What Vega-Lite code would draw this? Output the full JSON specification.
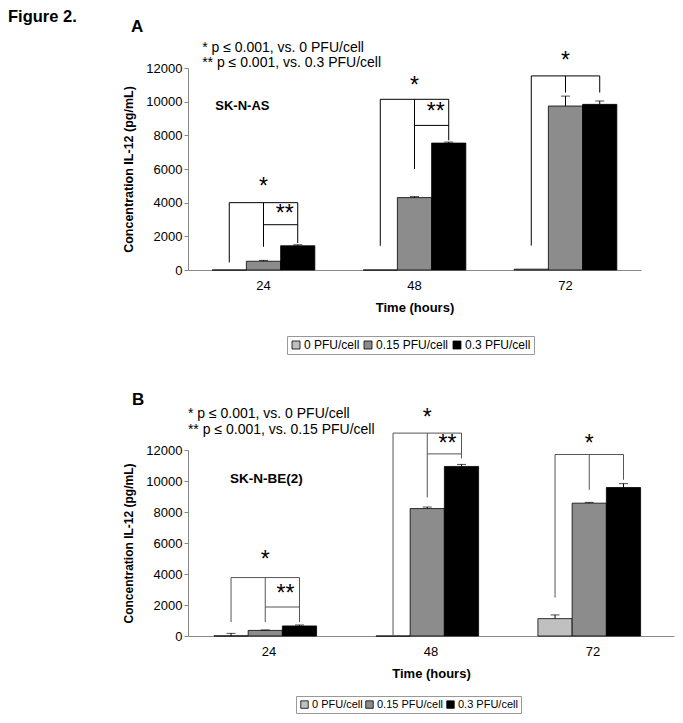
{
  "$schema": "https://vega.github.io/schema/vega-lite/v6.json",
  "background": "white",
  "padding": {"left": 8, "top": 9, "right": 5, "bottom": 5},
  "title": {"text": "Figure 2.", "anchor": "start", "frame": "group", "dx": -180, "fontSize": 16.5, "offset": -8},
  "bounds": "flush",
  "spacing": 180,
  "resolve": {"scale": {"fill": "independent"}, "legend": {"fill": "independent"}},
  "datasets": {
    "barsA": [
      {"time": "24", "dose": "0 PFU/cell", "value": 0, "hi": null},
      {"time": "24", "dose": "0.15 PFU/cell", "value": 520, "hi": 570},
      {"time": "24", "dose": "0.3 PFU/cell", "value": 1440, "hi": 1500},
      {"time": "48", "dose": "0 PFU/cell", "value": 0, "hi": null},
      {"time": "48", "dose": "0.15 PFU/cell", "value": 4300, "hi": 4360},
      {"time": "48", "dose": "0.3 PFU/cell", "value": 7540, "hi": 7600},
      {"time": "72", "dose": "0 PFU/cell", "value": 50, "hi": null},
      {"time": "72", "dose": "0.15 PFU/cell", "value": 9740, "hi": 10330},
      {"time": "72", "dose": "0.3 PFU/cell", "value": 9840, "hi": 10040}
    ],
    "vsegA": [
      {"time": "24", "dose": "0 PFU/cell", "y1": 450, "y2": 4000},
      {"time": "24", "dose": "0.15 PFU/cell", "y1": 1380, "y2": 4000},
      {"time": "24", "dose": "0.3 PFU/cell", "y1": 1600, "y2": 4000},
      {"time": "48", "dose": "0 PFU/cell", "y1": 1440, "y2": 10140},
      {"time": "48", "dose": "0.15 PFU/cell", "y1": 6000, "y2": 10140},
      {"time": "48", "dose": "0.3 PFU/cell", "y1": 7700, "y2": 10140},
      {"time": "72", "dose": "0 PFU/cell", "y1": 1450, "y2": 11530},
      {"time": "72", "dose": "0.15 PFU/cell", "y1": 10540, "y2": 11530},
      {"time": "72", "dose": "0.3 PFU/cell", "y1": 10540, "y2": 11530}
    ],
    "hsegA": [
      {"seg": "a24o", "time": "24", "dose": "0 PFU/cell", "y": 4000},
      {"seg": "a24o", "time": "24", "dose": "0.3 PFU/cell", "y": 4000},
      {"seg": "a24i", "time": "24", "dose": "0.15 PFU/cell", "y": 2690},
      {"seg": "a24i", "time": "24", "dose": "0.3 PFU/cell", "y": 2690},
      {"seg": "a48o", "time": "48", "dose": "0 PFU/cell", "y": 10140},
      {"seg": "a48o", "time": "48", "dose": "0.3 PFU/cell", "y": 10140},
      {"seg": "a48i", "time": "48", "dose": "0.15 PFU/cell", "y": 8590},
      {"seg": "a48i", "time": "48", "dose": "0.3 PFU/cell", "y": 8590},
      {"seg": "a72o", "time": "72", "dose": "0 PFU/cell", "y": 11530},
      {"seg": "a72o", "time": "72", "dose": "0.3 PFU/cell", "y": 11530}
    ],
    "star1A": [
      {"time": "24", "dose": "0.15 PFU/cell", "y": 4930, "label": "*"},
      {"time": "48", "dose": "0.15 PFU/cell", "y": 10940, "label": "*"},
      {"time": "72", "dose": "0.15 PFU/cell", "y": 12420, "label": "*"}
    ],
    "star2A": [
      {"time": "24", "dose": "0.3 PFU/cell", "y": 3320, "label": "**"},
      {"time": "48", "dose": "0.3 PFU/cell", "y": 9400, "label": "**"}
    ],
    "cellA": [{"time": "24", "dose": "0 PFU/cell", "y": 9715, "label": "SK-N-AS"}],
    "headA": [
      {"time": "24", "y": 13190, "label": "* p ≤ 0.001, vs. 0 PFU/cell"},
      {"time": "24", "y": 12300, "label": "** p ≤ 0.001, vs. 0.3 PFU/cell"}
    ],
    "barsB": [
      {"time": "24", "dose": "0 PFU/cell", "value": 10, "hi": 170},
      {"time": "24", "dose": "0.15 PFU/cell", "value": 360, "hi": 390},
      {"time": "24", "dose": "0.3 PFU/cell", "value": 650, "hi": 710},
      {"time": "48", "dose": "0 PFU/cell", "value": 0, "hi": null},
      {"time": "48", "dose": "0.15 PFU/cell", "value": 8220, "hi": 8320},
      {"time": "48", "dose": "0.3 PFU/cell", "value": 10940, "hi": 11070},
      {"time": "72", "dose": "0 PFU/cell", "value": 1120, "hi": 1360},
      {"time": "72", "dose": "0.15 PFU/cell", "value": 8570, "hi": 8620},
      {"time": "72", "dose": "0.3 PFU/cell", "value": 9580, "hi": 9830}
    ],
    "vsegB": [
      {"time": "24", "dose": "0 PFU/cell", "y1": 900, "y2": 3770},
      {"time": "24", "dose": "0.15 PFU/cell", "y1": 900, "y2": 3770},
      {"time": "24", "dose": "0.3 PFU/cell", "y1": 900, "y2": 3770},
      {"time": "48", "dose": "0 PFU/cell", "y1": 0, "y2": 13090},
      {"time": "48", "dose": "0.15 PFU/cell", "y1": 8940, "y2": 13090},
      {"time": "48", "dose": "0.3 PFU/cell", "y1": 11460, "y2": 13090},
      {"time": "72", "dose": "0 PFU/cell", "y1": 2480, "y2": 11710},
      {"time": "72", "dose": "0.15 PFU/cell", "y1": 9430, "y2": 11710},
      {"time": "72", "dose": "0.3 PFU/cell", "y1": 10080, "y2": 11710}
    ],
    "hsegB": [
      {"seg": "b24o", "time": "24", "dose": "0 PFU/cell", "y": 3770},
      {"seg": "b24o", "time": "24", "dose": "0.3 PFU/cell", "y": 3770},
      {"seg": "b24i", "time": "24", "dose": "0.15 PFU/cell", "y": 1870},
      {"seg": "b24i", "time": "24", "dose": "0.3 PFU/cell", "y": 1870},
      {"seg": "b48o", "time": "48", "dose": "0 PFU/cell", "y": 13090},
      {"seg": "b48o", "time": "48", "dose": "0.3 PFU/cell", "y": 13090},
      {"seg": "b48i", "time": "48", "dose": "0.15 PFU/cell", "y": 11750},
      {"seg": "b48i", "time": "48", "dose": "0.3 PFU/cell", "y": 11750},
      {"seg": "b72o", "time": "72", "dose": "0 PFU/cell", "y": 11710},
      {"seg": "b72o", "time": "72", "dose": "0.3 PFU/cell", "y": 11710}
    ],
    "star1B": [
      {"time": "24", "dose": "0.15 PFU/cell", "y": 4910, "label": "*"},
      {"time": "48", "dose": "0.15 PFU/cell", "y": 14070, "label": "*"},
      {"time": "72", "dose": "0.15 PFU/cell", "y": 12390, "label": "*"}
    ],
    "star2B": [
      {"time": "24", "dose": "0.3 PFU/cell", "y": 2710, "label": "**"},
      {"time": "48", "dose": "0.3 PFU/cell", "y": 12390, "label": "**"}
    ],
    "cellB": [{"time": "24", "dose": "0 PFU/cell", "y": 10120, "label": "SK-N-BE(2)"}],
    "headB": [
      {"time": "24", "y": 14325, "label": "* p ≤ 0.001, vs. 0 PFU/cell"},
      {"time": "24", "y": 13290, "label": "** p ≤ 0.001, vs. 0.15 PFU/cell"}
    ]
  },
  "vconcat": [
    {
      "width": 453,
      "height": 202,
      "title": {"text": "A", "anchor": "start", "frame": "group", "dx": -57, "fontSize": 17, "offset": 5},
      "layer": [
        {
          "data": {"name": "barsA"},
          "mark": {"type": "bar", "stroke": "#000", "strokeWidth": 0.8},
          "encoding": {
            "x": {"field": "time", "type": "nominal", "title": "Time (hours)",
              "scale": {"paddingInner": 0.32, "paddingOuter": 0.16},
              "axis": {"labelAngle": 0, "ticks": false, "labelPadding": 9, "labelFontSize": 13, "titleFontSize": 13, "titlePadding": 9}},
            "xOffset": {"field": "dose", "type": "nominal", "scale": {"paddingInner": 0, "paddingOuter": 0}},
            "y": {"field": "value", "type": "quantitative", "title": "Concentration IL-12 (pg/mL)",
              "scale": {"domain": [0, 12000], "nice": false},
              "axis": {"values": [0, 2000, 4000, 6000, 8000, 10000, 12000], "tickCount": 10, "format": "d", "labelOverlap": false, "tickSize": 4, "labelPadding": 2, "labelFontSize": 13, "titleFontSize": 12.5, "titlePadding": 10}},
            "fill": {"field": "dose", "type": "nominal",
              "scale": {"domain": ["0 PFU/cell", "0.15 PFU/cell", "0.3 PFU/cell"], "range": ["#c0c0c0", "#8c8c8c", "#000000"]},
              "legend": {"orient": "none", "legendX": 99, "legendY": 268, "direction": "horizontal", "title": null, "symbolType": "square", "symbolSize": 64, "labelFontSize": 12, "strokeColor": "#999", "padding": 3, "columnPadding": 2, "labelOffset": 2, "fillColor": "#fff", "symbolStrokeColor": "#000", "symbolStrokeWidth": 0.8}}
          }
        },
        {
          "data": {"name": "barsA"},
          "transform": [{"filter": "datum.hi != null"}],
          "mark": {"type": "rule", "color": "#000", "strokeWidth": 1},
          "encoding": {
            "x": {"field": "time", "type": "nominal", "title": "Time (hours)"},
            "xOffset": {"field": "dose", "type": "nominal"},
            "y": {"field": "value", "type": "quantitative", "title": "Concentration IL-12 (pg/mL)"},
            "y2": {"field": "hi"}
          }
        },
        {
          "data": {"name": "barsA"},
          "transform": [{"filter": "datum.hi != null"}],
          "mark": {"type": "tick", "color": "#000", "thickness": 1, "size": 9},
          "encoding": {
            "x": {"field": "time", "type": "nominal", "title": "Time (hours)"},
            "xOffset": {"field": "dose", "type": "nominal"},
            "y": {"field": "hi", "type": "quantitative", "title": "Concentration IL-12 (pg/mL)"}
          }
        },
        {
          "data": {"name": "vsegA"},
          "mark": {"type": "rule", "color": "#000", "strokeWidth": 1},
          "encoding": {
            "x": {"field": "time", "type": "nominal", "title": "Time (hours)"},
            "xOffset": {"field": "dose", "type": "nominal"},
            "y": {"field": "y1", "type": "quantitative", "title": "Concentration IL-12 (pg/mL)"},
            "y2": {"field": "y2"}
          }
        },
        {
          "data": {"name": "hsegA"},
          "mark": {"type": "line", "color": "#000", "strokeWidth": 1},
          "encoding": {
            "x": {"field": "time", "type": "nominal", "title": "Time (hours)"},
            "xOffset": {"field": "dose", "type": "nominal"},
            "y": {"field": "y", "type": "quantitative", "title": "Concentration IL-12 (pg/mL)"},
            "detail": {"field": "seg"}
          }
        },
        {
          "data": {"name": "star1A"},
          "mark": {"type": "text", "fontSize": 23, "color": "#000", "baseline": "middle"},
          "encoding": {
            "x": {"field": "time", "type": "nominal", "title": "Time (hours)"},
            "xOffset": {"field": "dose", "type": "nominal"},
            "y": {"field": "y", "type": "quantitative", "title": "Concentration IL-12 (pg/mL)"},
            "text": {"field": "label"}
          }
        },
        {
          "data": {"name": "star2A"},
          "mark": {"type": "text", "fontSize": 23, "color": "#000", "baseline": "middle", "dx": -13},
          "encoding": {
            "x": {"field": "time", "type": "nominal", "title": "Time (hours)"},
            "xOffset": {"field": "dose", "type": "nominal"},
            "y": {"field": "y", "type": "quantitative", "title": "Concentration IL-12 (pg/mL)"},
            "text": {"field": "label"}
          }
        },
        {
          "data": {"name": "cellA"},
          "mark": {"type": "text", "fontSize": 13, "fontWeight": "bold", "color": "#000", "baseline": "middle", "align": "left", "dx": -14},
          "encoding": {
            "x": {"field": "time", "type": "nominal", "title": "Time (hours)"},
            "xOffset": {"field": "dose", "type": "nominal"},
            "y": {"field": "y", "type": "quantitative", "title": "Concentration IL-12 (pg/mL)"},
            "text": {"field": "label"}
          }
        },
        {
          "data": {"name": "headA"},
          "mark": {"type": "text", "fontSize": 14, "color": "#000", "baseline": "middle", "align": "left", "dx": -10},
          "encoding": {
            "x": {"field": "time", "type": "nominal", "title": "Time (hours)", "bandPosition": 0},
            "y": {"field": "y", "type": "quantitative", "title": "Concentration IL-12 (pg/mL)"},
            "text": {"field": "label"}
          }
        }
      ]
    },
    {
      "width": 486,
      "height": 186,
      "title": {"text": "B", "anchor": "start", "frame": "group", "dx": -56, "fontSize": 17, "offset": -2},
      "layer": [
        {
          "data": {"name": "barsB"},
          "mark": {"type": "bar", "stroke": "#000", "strokeWidth": 0.8},
          "encoding": {
            "x": {"field": "time", "type": "nominal", "title": "Time (hours)",
              "scale": {"paddingInner": 0.32, "paddingOuter": 0.16},
              "axis": {"labelAngle": 0, "ticks": false, "labelPadding": 9, "labelFontSize": 13, "titleFontSize": 13, "titlePadding": 9}},
            "xOffset": {"field": "dose", "type": "nominal", "scale": {"paddingInner": 0, "paddingOuter": 0}},
            "y": {"field": "value", "type": "quantitative", "title": "Concentration IL-12 (pg/mL)",
              "scale": {"domain": [0, 12000], "nice": false},
              "axis": {"values": [0, 2000, 4000, 6000, 8000, 10000, 12000], "tickCount": 10, "format": "d", "labelOverlap": false, "tickSize": 4, "labelPadding": 2, "labelFontSize": 13, "titleFontSize": 12, "titlePadding": 10}},
            "fill": {"field": "dose", "type": "nominal",
              "scale": {"domain": ["0 PFU/cell", "0.15 PFU/cell", "0.3 PFU/cell"], "range": ["#c0c0c0", "#8c8c8c", "#000000"]},
              "legend": {"orient": "none", "legendX": 108, "legendY": 246, "direction": "horizontal", "title": null, "symbolType": "square", "symbolSize": 56, "labelFontSize": 11, "strokeColor": "#999", "padding": 3, "columnPadding": 1, "labelOffset": 2, "fillColor": "#fff", "symbolStrokeColor": "#000", "symbolStrokeWidth": 0.8}}
          }
        },
        {
          "data": {"name": "barsB"},
          "transform": [{"filter": "datum.hi != null"}],
          "mark": {"type": "rule", "color": "#000", "strokeWidth": 1},
          "encoding": {
            "x": {"field": "time", "type": "nominal", "title": "Time (hours)"},
            "xOffset": {"field": "dose", "type": "nominal"},
            "y": {"field": "value", "type": "quantitative", "title": "Concentration IL-12 (pg/mL)"},
            "y2": {"field": "hi"}
          }
        },
        {
          "data": {"name": "barsB"},
          "transform": [{"filter": "datum.hi != null"}],
          "mark": {"type": "tick", "color": "#000", "thickness": 1, "size": 9},
          "encoding": {
            "x": {"field": "time", "type": "nominal", "title": "Time (hours)"},
            "xOffset": {"field": "dose", "type": "nominal"},
            "y": {"field": "hi", "type": "quantitative", "title": "Concentration IL-12 (pg/mL)"}
          }
        },
        {
          "data": {"name": "vsegB"},
          "mark": {"type": "rule", "color": "#555", "strokeWidth": 1},
          "encoding": {
            "x": {"field": "time", "type": "nominal", "title": "Time (hours)"},
            "xOffset": {"field": "dose", "type": "nominal"},
            "y": {"field": "y1", "type": "quantitative", "title": "Concentration IL-12 (pg/mL)"},
            "y2": {"field": "y2"}
          }
        },
        {
          "data": {"name": "hsegB"},
          "mark": {"type": "line", "color": "#555", "strokeWidth": 1},
          "encoding": {
            "x": {"field": "time", "type": "nominal", "title": "Time (hours)"},
            "xOffset": {"field": "dose", "type": "nominal"},
            "y": {"field": "y", "type": "quantitative", "title": "Concentration IL-12 (pg/mL)"},
            "detail": {"field": "seg"}
          }
        },
        {
          "data": {"name": "star1B"},
          "mark": {"type": "text", "fontSize": 23, "color": "#000", "baseline": "middle"},
          "encoding": {
            "x": {"field": "time", "type": "nominal", "title": "Time (hours)"},
            "xOffset": {"field": "dose", "type": "nominal"},
            "y": {"field": "y", "type": "quantitative", "title": "Concentration IL-12 (pg/mL)"},
            "text": {"field": "label"}
          }
        },
        {
          "data": {"name": "star2B"},
          "mark": {"type": "text", "fontSize": 23, "color": "#000", "baseline": "middle", "dx": -14},
          "encoding": {
            "x": {"field": "time", "type": "nominal", "title": "Time (hours)"},
            "xOffset": {"field": "dose", "type": "nominal"},
            "y": {"field": "y", "type": "quantitative", "title": "Concentration IL-12 (pg/mL)"},
            "text": {"field": "label"}
          }
        },
        {
          "data": {"name": "cellB"},
          "mark": {"type": "text", "fontSize": 13.5, "fontWeight": "bold", "color": "#000", "baseline": "middle", "align": "left", "dx": -1},
          "encoding": {
            "x": {"field": "time", "type": "nominal", "title": "Time (hours)"},
            "xOffset": {"field": "dose", "type": "nominal"},
            "y": {"field": "y", "type": "quantitative", "title": "Concentration IL-12 (pg/mL)"},
            "text": {"field": "label"}
          }
        },
        {
          "data": {"name": "headB"},
          "mark": {"type": "text", "fontSize": 14, "color": "#000", "baseline": "middle", "align": "left", "dx": -26},
          "encoding": {
            "x": {"field": "time", "type": "nominal", "title": "Time (hours)", "bandPosition": 0},
            "y": {"field": "y", "type": "quantitative", "title": "Concentration IL-12 (pg/mL)"},
            "text": {"field": "label"}
          }
        }
      ]
    }
  ],
  "config": {
    "font": "Liberation Sans",
    "view": {"stroke": null},
    "axis": {"grid": false, "domainColor": "#888", "tickColor": "#888", "labelColor": "#000", "titleColor": "#000", "titleFontWeight": "bold", "labelFont": "Liberation Sans", "titleFont": "Liberation Sans"},
    "title": {"font": "Liberation Sans", "fontWeight": "bold", "color": "#000"},
    "legend": {"labelFont": "Liberation Sans", "labelColor": "#000"}
  }
}
